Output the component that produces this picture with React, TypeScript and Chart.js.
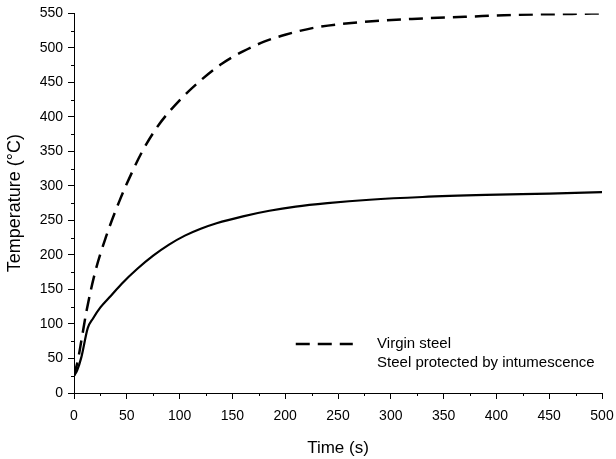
import React, { useEffect, useRef } from "react";
import { Chart, registerables } from "chart.js";

Chart.register(...registerables);

const virginTime = [0, 4, 7, 12, 20, 30, 43, 55, 65, 80, 100, 120, 140, 160, 180, 200, 230, 270, 320, 370, 420, 460, 500];
const virginTemp = [25, 50, 76, 120, 175, 225, 278, 320, 351, 388, 424, 453, 477, 495, 509, 519, 530, 537, 542, 545, 548, 549, 550];

const protectedTime = [0, 3, 7, 13, 18, 25, 35, 45, 60, 75, 90, 105, 120, 135, 160, 185, 210, 240, 280, 330, 390, 450, 500];
const protectedTemp = [25, 33, 52, 94, 108, 124, 141, 158, 180, 199, 215, 228, 238, 246, 256, 264, 270, 275, 280, 284, 287, 289, 291];

const seriesNames = ["Virgin steel", "Steel protected by intumescence"];
const xTitle = "Time (s)";
const yTitle = "Temperature (°C)";

const FONT = "'Liberation Sans', Arial, sans-serif";

const minorTicks = {
  id: "minorTicks",
  afterDraw(chart: any) {
    const ctx = chart.ctx;
    const x = chart.scales.x;
    const y = chart.scales.y;
    ctx.save();
    ctx.strokeStyle = "#000";
    ctx.lineWidth = 1;
    ctx.beginPath();
    for (let v = 25; v < 500; v += 50) {
      const px = Math.round(x.getPixelForValue(v)) + 0.5;
      ctx.moveTo(px, y.bottom);
      ctx.lineTo(px, y.bottom + 3);
    }
    for (let v = 25; v < 550; v += 50) {
      const py = Math.round(y.getPixelForValue(v)) + 0.5;
      ctx.moveTo(x.left, py);
      ctx.lineTo(x.left - 3, py);
    }
    ctx.stroke();
    ctx.restore();
  },
};

const customLegend = {
  id: "customLegend",
  afterDraw(chart: any) {
    const ctx = chart.ctx;
    const a = chart.chartArea;
    const w = a.right - a.left;
    const h = a.bottom - a.top;
    const lx0 = a.left + 0.42 * w;
    const lx1 = a.left + 0.528 * w;
    const tx = a.left + 0.574 * w;
    const y1 = a.top + 0.871 * h;
    const y2 = a.top + 0.921 * h;
    ctx.save();
    ctx.strokeStyle = "#000";
    ctx.lineWidth = 2.5;
    ctx.setLineDash([14, 8]);
    ctx.beginPath();
    ctx.moveTo(lx0, y1);
    ctx.lineTo(lx1, y1);
    ctx.stroke();
    ctx.setLineDash([]);
    ctx.fillStyle = "#000";
    ctx.font = `15px ${FONT}`;
    ctx.textBaseline = "middle";
    ctx.textAlign = "left";
    ctx.fillText(seriesNames[0], tx, y1);
    ctx.fillText(seriesNames[1], tx, y2);
    ctx.restore();
  },
};

export default function App() {
  const ref = useRef<HTMLCanvasElement | null>(null);

  useEffect(() => {
    if (!ref.current) return;
    const chart = new Chart(ref.current, {
      type: "line",
      data: {
        datasets: [
          {
            label: seriesNames[0],
            data: virginTime.map((t, i) => ({ x: t, y: virginTemp[i] })),
            borderColor: "#000",
            borderWidth: 2.5,
            borderDash: [14, 8],
            pointRadius: 0,
            cubicInterpolationMode: "monotone",
            fill: false,
          },
          {
            label: seriesNames[1],
            data: protectedTime.map((t, i) => ({ x: t, y: protectedTemp[i] })),
            borderColor: "#000",
            borderWidth: 2.2,
            pointRadius: 0,
            cubicInterpolationMode: "monotone",
            fill: false,
          },
        ],
      },
      options: {
        animation: false,
        responsive: true,
        maintainAspectRatio: false,
        layout: { padding: { top: 12, right: 14, left: 0, bottom: 0 } },
        plugins: {
          legend: { display: false },
          tooltip: { enabled: false },
        },
        scales: {
          x: {
            type: "linear",
            min: 0,
            max: 500,
            border: { display: true, color: "#000", width: 1 },
            grid: { display: true, drawOnChartArea: false, drawTicks: true, tickLength: 6, tickColor: "#000" },
            ticks: { stepSize: 50, color: "#000", padding: 2, maxRotation: 0, font: { family: FONT, size: 14, lineHeight: 2.14 } },
            title: { display: true, text: xTitle, color: "#000", font: { family: FONT, size: 17 }, padding: { top: 6, bottom: 0 } },
            afterFit: (s: any) => { s.height = 66; },
          },
          y: {
            type: "linear",
            min: 0,
            max: 550,
            border: { display: true, color: "#000", width: 1 },
            grid: { display: true, drawOnChartArea: false, drawTicks: true, tickLength: 6, tickColor: "#000" },
            ticks: { stepSize: 50, color: "#000", padding: 5, font: { family: FONT, size: 14 } },
            title: { display: true, text: yTitle, color: "#000", font: { family: FONT, size: 18 }, padding: { top: 4, bottom: 4 } },
            afterFit: (s: any) => { s.width = 74; },
          },
        },
      },
      plugins: [minorTicks, customLegend],
    });
    return () => chart.destroy();
  }, []);

  return (
    <div style={{ position: "fixed", left: 0, top: 0, width: 616, height: 459, background: "#fff" }}>
      <canvas ref={ref} />
    </div>
  );
}
